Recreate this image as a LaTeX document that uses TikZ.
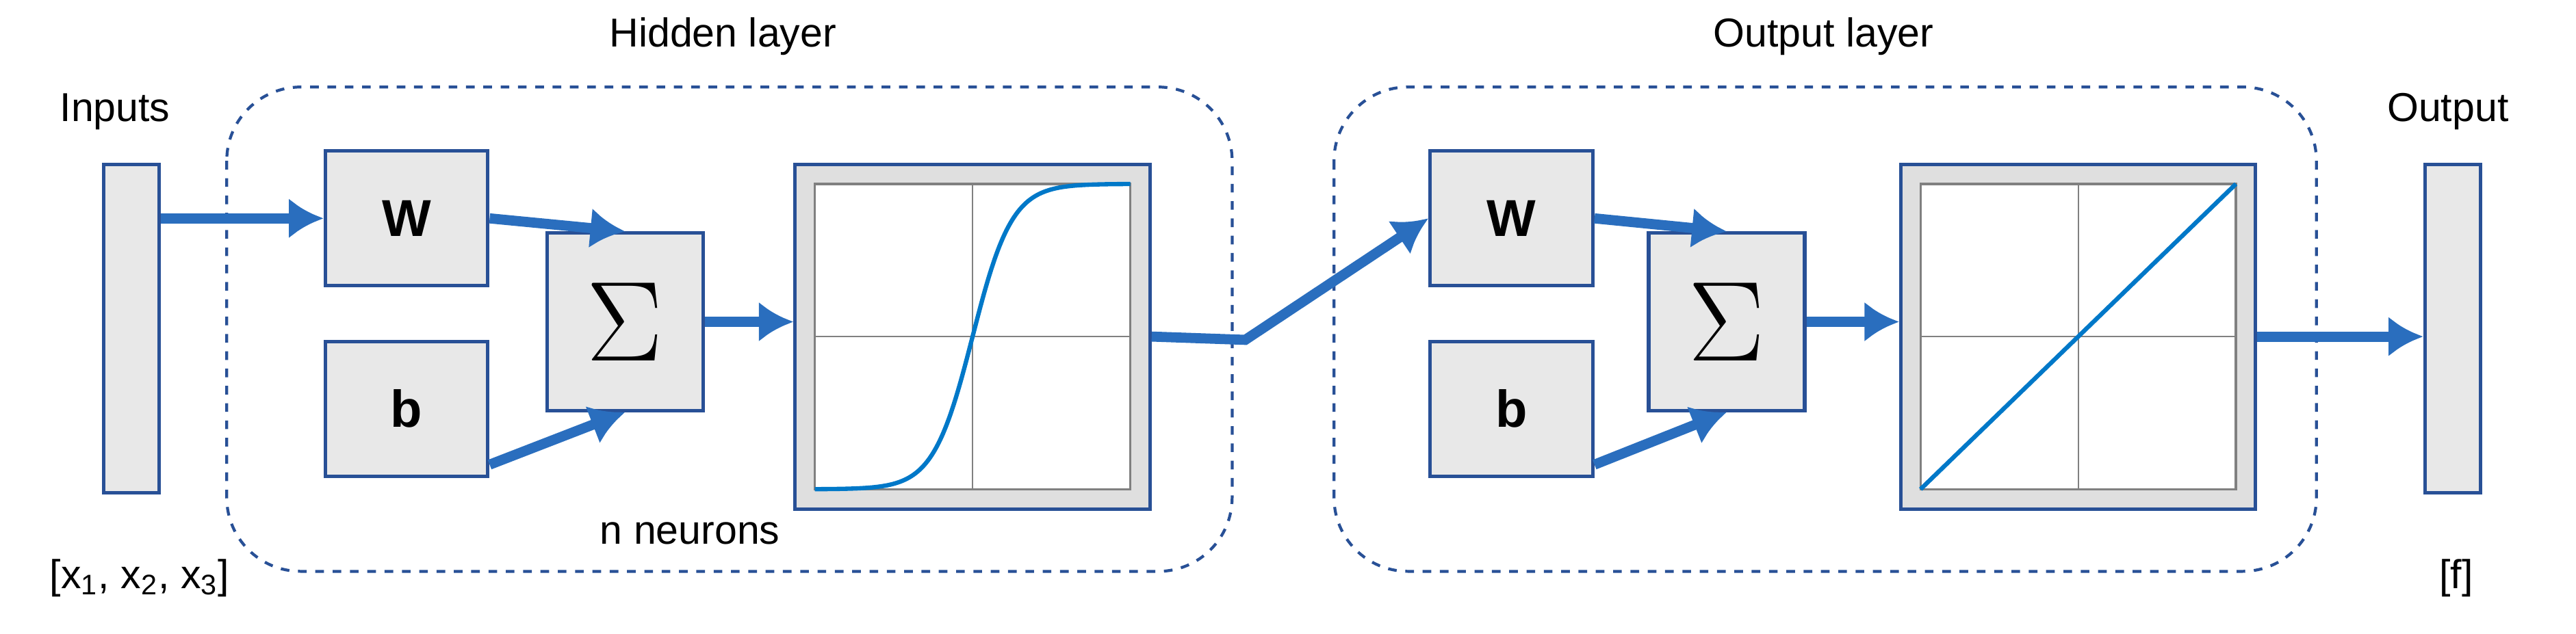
\documentclass[tikz,border=0pt]{standalone}
\usepackage{fontspec}
\setmainfont{Liberation Sans}
\usetikzlibrary{arrows.meta,positioning}
\definecolor{arrblue}{RGB}{42,110,190}
\definecolor{edgeblue}{RGB}{40,80,150}
\definecolor{curveblue}{RGB}{0,120,200}
\newcommand{\sumsym}{\scalebox{1.9}{$\Sigma$}}
\tikzset{
  blk/.style={draw=edgeblue, line width=1.2pt, fill=gray!18, inner sep=0pt, font=\bfseries\fontsize{18}{20}\selectfont},
  wbox/.style={blk, minimum width=1.98cm, minimum height=1.64cm},
  sbox/.style={blk, minimum width=1.9cm, minimum height=2.16cm, font=\fontsize{20}{22}\selectfont},
  pbox/.style={blk, fill=gray!25, minimum width=4.32cm, minimum height=4.2cm},
  bar/.style={blk, minimum width=0.68cm, minimum height=4cm},
  flow/.style={draw=arrblue, line width=3.5pt, -{Latex[length=12pt,width=14pt]}},
  layer/.style={draw=edgeblue, dashed, line width=1pt, rounded corners=0.9cm},
  lbl/.style={font=\fontsize{14}{17}\selectfont}
}
\begin{document}
\begin{tikzpicture}[x=0.02cm, y=-0.02cm]
\useasboundingbox (0,0) rectangle (1568,386);
% layers
\draw[layer] (138,53) rectangle (750,348);
\draw[layer] (812,53) rectangle (1410,348);
\node[lbl] (hid) at (440,22) {Hidden layer};
\node[lbl] (outl) at (1110,22) {Output layer};
% inputs
\node[bar] (in) at (80,200) {};
\node[lbl] (inlbl) at (70,68) {Inputs};
\node[lbl] (x) at (85,352) {[x\textsubscript{1}, x\textsubscript{2}, x\textsubscript{3}]};
% hidden layer
\node[wbox] (w1) at (247.5,133) {W};
\node[wbox] (b1) at (247.5,249) {b};
\node[sbox] (s1) at (380.5,196) {\sumsym};
\node[pbox] (p1) at (592,205) {};
\node[lbl] (nn) at (420,325) {n neurons};
% output layer
\node[wbox] (w2) at (920,133) {W};
\node[wbox] (b2) at (920,249) {b};
\node[sbox] (s2) at (1051,196) {\sumsym};
\node[pbox] (p2) at (1265,205) {};
% output
\node[bar] (out) at (1493,200) {};
\node[lbl] (outlbl) at (1490,68) {Output};
\node[lbl] (f) at (1495,352) {[f]};
% plots
\foreach \p/\kind in {p1/0,p2/1}{
  \begin{scope}[shift={(\p.center)}]
    \draw[gray, fill=white, line width=0.8pt] (-96,-93) rectangle (96,93);
    \draw[gray, line width=0.5pt] (0,-93) -- (0,93) (-96,0) -- (96,0);
    \ifnum\kind=0
      \draw[curveblue, line width=1.5pt] plot[domain=-96:96, samples=90, smooth] (\x, {-93*tanh(\x/24)});
    \else
      \draw[curveblue, line width=1.5pt] (-96,93) -- (96,-93);
    \fi
  \end{scope}
}
% connectors
\coordinate (bend) at (758,207);
\draw[flow] (in.east |- w1) -- (w1.west);
\draw[flow] (w1.east) -- (s1.north);
\draw[flow] (b1.east) ++(0,34) -- (s1.south);
\draw[flow] (s1.east) -- (p1.west |- s1.east);
\draw[flow] (p1.east) -- (bend) -- (w2.west);
\draw[flow] (w2.east) -- (s2.north);
\draw[flow] (b2.east) ++(0,34) -- (s2.south);
\draw[flow] (s2.east) -- (p2.west |- s2.east);
\draw[flow] (p2.east) -- (out.west |- p2.east);
\end{tikzpicture}
\end{document}
